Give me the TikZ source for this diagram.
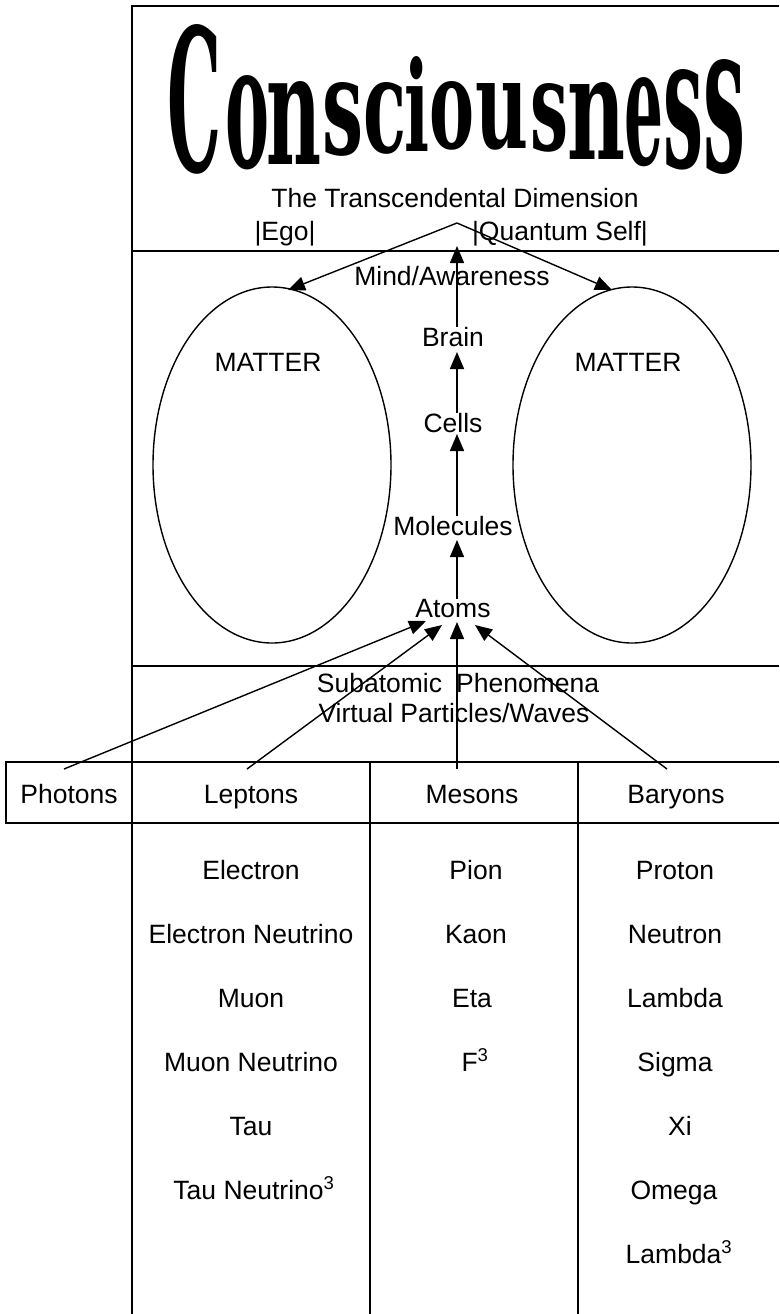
\documentclass[tikz,border=0pt]{standalone}
\usepackage{fontspec}
\usepackage{graphicx}
\setmainfont{Liberation Sans}
\newfontfamily\titlefont{DejaVu Serif}
\usetikzlibrary{arrows.meta,shapes.geometric}
\newcommand\ttlletter[6]{\node[ttl] (#6) at (#1,#2) {\resizebox{#3pt}{#4pt}{\titlefont\bfseries\fontsize{60}{60}\selectfont #5}};}
\begin{document}
\begin{tikzpicture}[x=1pt,y=-1pt,
  txt/.style={font=\fontsize{26.5}{30}\selectfont, inner sep=0pt, anchor=base},
  frame/.style={line width=2pt},
  conn/.style={line width=1.4pt},
  arr/.style={conn, -{Triangle[width=14pt,length=17pt]}},
  ttl/.style={inner sep=0pt, anchor=south},
  blob/.style={ellipse, draw, line width=1.4pt, minimum width=238pt, minimum height=356pt, inner sep=0pt}
]
\useasboundingbox (0,0) rectangle (779,1314);

% frame and table
\draw[frame] (779,6) -- (132,6) -- (132,1314);
\draw[frame] (132,251) -- (779,251);
\draw[frame] (132,666) -- (779,666);
\draw[frame] (779,762) -- (6,762) -- (6,823) -- (779,823);
\draw[frame] (370,762) -- (370,1314);
\draw[frame] (578,762) -- (578,1314);

% title letters
\ttlletter{194}{175}{54}{147}{C}{t1}
\ttlletter{247}{170}{44}{92}{o}{t2}
\ttlletter{294}{165}{55}{83}{n}{t3}
\ttlletter{343}{157}{41}{72}{s}{t4}
\ttlletter{385}{155}{43}{70}{c}{t5}
\ttlletter{417}{152}{25}{95}{i}{t6}
\ttlletter{452}{150}{45}{67}{o}{t7}
\ttlletter{502}{150}{53}{65}{u}{t8}
\ttlletter{549}{152}{38}{67}{s}{t9}
\ttlletter{596}{160}{58}{77}{n}{t10}
\ttlletter{644}{167}{39}{87}{e}{t11}
\ttlletter{683}{170}{40}{98}{s}{t12}
\ttlletter{724}{175}{42}{112}{s}{t13}

% texts
\node[txt] (trans) at (455,207) {The Transcendental Dimension};
\node[txt] (ego) at (285,240) {|Ego|};
\node[txt] (qself) at (560,240) {|Quantum Self|};
\node[txt] (mind) at (452,285) {Mind/Awareness};
\node[txt] (brain) at (453,346) {Brain};
\node[txt] (matterL) at (268,371) {MATTER};
\node[txt] (matterR) at (628,371) {MATTER};
\node[txt] (cells) at (453,432) {Cells};
\node[txt] (molecules) at (453,535) {Molecules};
\node[txt] (atoms) at (453,617) {Atoms};
\node[txt] (sub) at (458,692) {Subatomic\hspace{14pt}Phenomena};
\node[txt] (virt) at (454,722) {Virtual Particles/Waves};

\node[blob] (ellL) at (272,465) {};
\node[blob] (ellR) at (632,465) {};

% table headers
\node[txt] (photons) at (69,803) {Photons};
\node[txt] (leptons) at (251,803) {Leptons};
\node[txt] (mesons) at (472,803) {Mesons};
\node[txt] (baryons) at (676,803) {Baryons};

% leptons
\node[txt] (l1) at (251,879) {Electron};
\node[txt] (l2) at (251,943) {Electron Neutrino};
\node[txt] (l3) at (251,1007) {Muon};
\node[txt] (l4) at (251,1071) {Muon Neutrino};
\node[txt] (l5) at (251,1135) {Tau};
\node[txt] (l6) at (254,1199) {Tau Neutrino\textsuperscript{3}};
% mesons
\node[txt] (m1) at (476,879) {Pion};
\node[txt] (m2) at (476,943) {Kaon};
\node[txt] (m3) at (472,1007) {Eta};
\node[txt] (m4) at (475,1071) {F\textsuperscript{3}};
% baryons
\node[txt] (b1) at (675,879) {Proton};
\node[txt] (b2) at (675,943) {Neutron};
\node[txt] (b3) at (675,1007) {Lambda};
\node[txt] (b4) at (675,1071) {Sigma};
\node[txt] (b5) at (680,1135) {Xi};
\node[txt] (b6) at (674,1199) {Omega};
\node[txt] (b7) at (679,1263) {Lambda\textsuperscript{3}};

% connectors
\coordinate (apex) at (457,223);
\coordinate (mindTip) at (457,246);
\coordinate (tipL) at (288,290);
\coordinate (tipR) at (612,290);
\coordinate (brainIn) at (457,352);
\coordinate (cellsIn) at (457,434);
\coordinate (molIn) at (457,540);
\draw[arr] (brain.north -| apex) -- (mindTip);
\draw[arr] (apex) -- (tipL);
\draw[arr] (apex) -- (tipR);
\draw[arr] (cells.north -| apex) -- (brainIn);
\draw[arr] (molecules.north -| apex) -- (cellsIn);
\draw[arr] (atoms.north -| apex) -- (molIn);

\coordinate (phS) at (64,769);
\coordinate (lepS) at (247,769);
\coordinate (mesS) at (457,769);
\coordinate (barS) at (667,769);
\coordinate (phT) at (426,621);
\coordinate (lepT) at (442,625);
\coordinate (mesT) at (457,622);
\coordinate (barT) at (475,625);
\draw[arr] (phS) -- (phT);
\draw[arr] (lepS) -- (lepT);
\draw[arr] (mesS) -- (mesT);
\draw[arr] (barS) -- (barT);
\end{tikzpicture}
\end{document}
